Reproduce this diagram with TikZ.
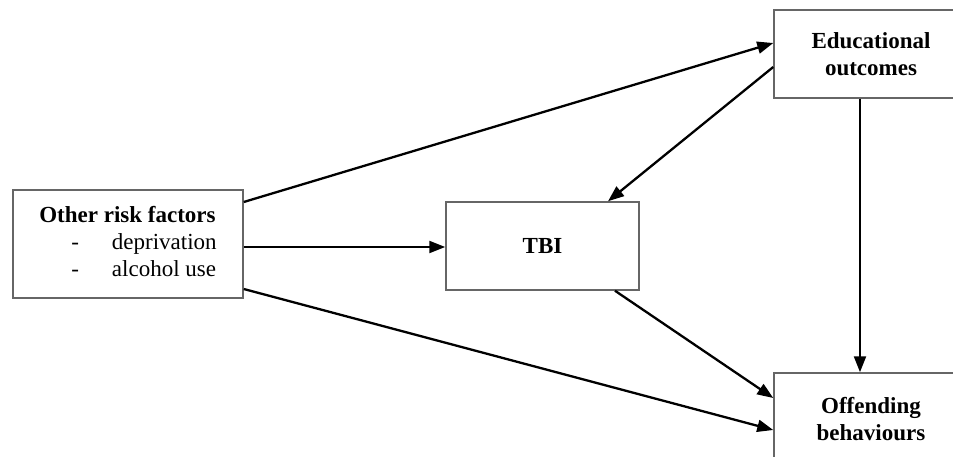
\documentclass[tikz,border=0pt]{standalone}
\usepackage{fontspec}
\setmainfont{Liberation Serif}
\usetikzlibrary{arrows.meta}
\begin{document}
\begin{tikzpicture}[x=1pt,y=-1pt,
  box/.style={draw=black!60, line width=1.5pt, rectangle, inner sep=0pt, align=center,
    font=\fontsize{23}{27}\selectfont\bfseries},
  arr/.style={line width=2.3pt, -{Triangle[length=16pt,width=12pt]}}]
\useasboundingbox (0,0) rectangle (953,457);
\clip (0,0) rectangle (953,457);
\node[box, minimum width=230pt, minimum height=108pt, font=\fontsize{23}{27}\selectfont] (other) at (128,244)
  {\raisebox{4pt}{\begin{tabular}{@{}l@{}l@{}}
   \multicolumn{2}{@{}l@{}}{\bfseries Other risk factors}\\
   \hspace{32pt}-\hspace{33pt} & deprivation\\
   \hspace{32pt}-\hspace{33pt} & alcohol use
   \end{tabular}}};
\node[box, minimum width=193pt, minimum height=88pt] (tbi) at (542.5,246) {TBI};
\node[box, minimum width=206pt, minimum height=88pt] (edu) at (877,54) {\hspace*{-12pt}Educational\\\hspace*{-12pt}outcomes};
\node[box, minimum width=206pt, minimum height=92pt] (off) at (877,419) {\hspace*{-12pt}Offending\\\hspace*{-12pt}behaviours};
\draw[arr] ([yshift=42pt]other.east) -- ([yshift=11pt]edu.west);
\draw[arr] ([yshift=-3pt]other.east) -- ([yshift=-1pt]tbi.west);
\draw[arr] ([yshift=-45pt]other.east) -- ([yshift=-11pt]off.west);
\draw[arr] ([yshift=-13pt]edu.west) -- ([xshift=65.5pt]tbi.north);
\draw[arr] ([xshift=-17pt]edu.south) -- ([xshift=-17pt]off.north);
\draw[arr] ([xshift=72.5pt]tbi.south) -- ([yshift=21pt]off.west);
\end{tikzpicture}
\end{document}
